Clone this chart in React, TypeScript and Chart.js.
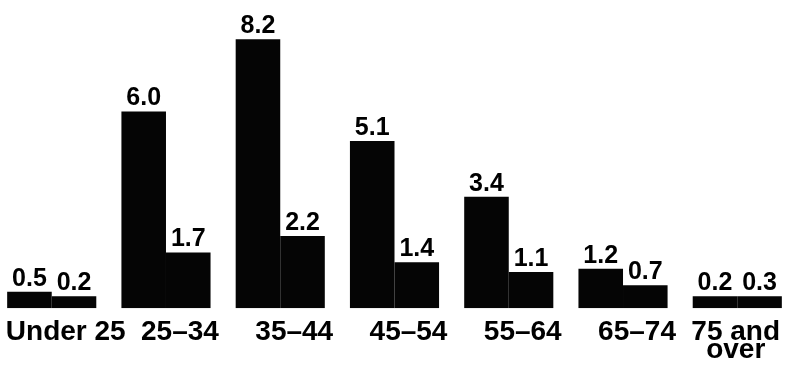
import React, { useEffect, useRef } from "react";
import { Chart, registerables } from "chart.js";

Chart.register(...registerables);

const NB = "\u00a0";
const categories: (string | string[])[] = [
  "Under 25",
  "25–34",
  "35–44",
  "45–54",
  "55–64",
  "65–74",
  ["75 and" + NB.repeat(4), "over" + NB.repeat(4)],
];
const seriesA = [0.5, 6.0, 8.2, 5.1, 3.4, 1.2, 0.2];
const seriesB = [0.2, 1.7, 2.2, 1.4, 1.1, 0.7, 0.3];
const valueLabelsA = ["0.5", "6.0", "8.2", "5.1", "3.4", "1.2", "0.2"];
const valueLabelsB = ["0.2", "1.7", "2.2", "1.4", "1.1", "0.7", "0.3"];

const FONT = "'Liberation Sans', Arial, Helvetica, sans-serif";

const valueLabelPlugin = {
  id: "valueLabels",
  afterDatasetsDraw(chart: any) {
    const ctx = chart.ctx;
    ctx.save();
    ctx.fillStyle = "#000";
    ctx.font = `bold 25px ${FONT}`;
    ctx.textAlign = "center";
    ctx.textBaseline = "alphabetic";
    const labelSets = [valueLabelsA, valueLabelsB];
    chart.data.datasets.forEach((_ds: any, di: number) => {
      const meta = chart.getDatasetMeta(di);
      meta.data.forEach((bar: any, i: number) => {
        ctx.fillText(labelSets[di][i], bar.x, bar.y - 6);
      });
    });
    ctx.restore();
  },
};

export default function App() {
  const ref = useRef<HTMLCanvasElement | null>(null);
  useEffect(() => {
    if (!ref.current) return;
    const chart = new Chart(ref.current, {
      type: "bar",
      data: {
        labels: categories,
        datasets: [
          { data: seriesA, backgroundColor: "#050505", borderWidth: 0, minBarLength: 12 },
          { data: seriesB, backgroundColor: "#050505", borderWidth: 0, minBarLength: 12 },
        ],
      },
      options: {
        animation: false,
        responsive: true,
        maintainAspectRatio: false,
        layout: { padding: { top: 0, bottom: 10, left: 0, right: 0 } },
        plugins: { legend: { display: false }, tooltip: { enabled: false } },
        datasets: { bar: { categoryPercentage: 0.78, barPercentage: 1.0 } },
        scales: {
          x: {
            grid: { display: true, color: "rgba(0,0,0,0)", drawOnChartArea: false, drawTicks: true, tickLength: 15 },
            border: { display: false },
            ticks: {
              color: "#000",
              font: { family: FONT, size: 28, weight: "bold", lineHeight: 0.64 },
              padding: 0,
              labelOffset: 14,
              maxRotation: 0,
              autoSkip: false,
            },
          },
          y: {
            display: false,
            min: 0,
            max: 9.4,
          },
        },
      },
      plugins: [valueLabelPlugin],
    });
    return () => chart.destroy();
  }, []);
  return (
    <div style={{ position: "absolute", left: 0, top: 0, width: 785, height: 369, overflow: "hidden", background: "#fff" }}>
      <div style={{ position: "absolute", left: -8, top: 0, width: 805, height: 369 }}>
        <canvas ref={ref} />
      </div>
    </div>
  );
}
